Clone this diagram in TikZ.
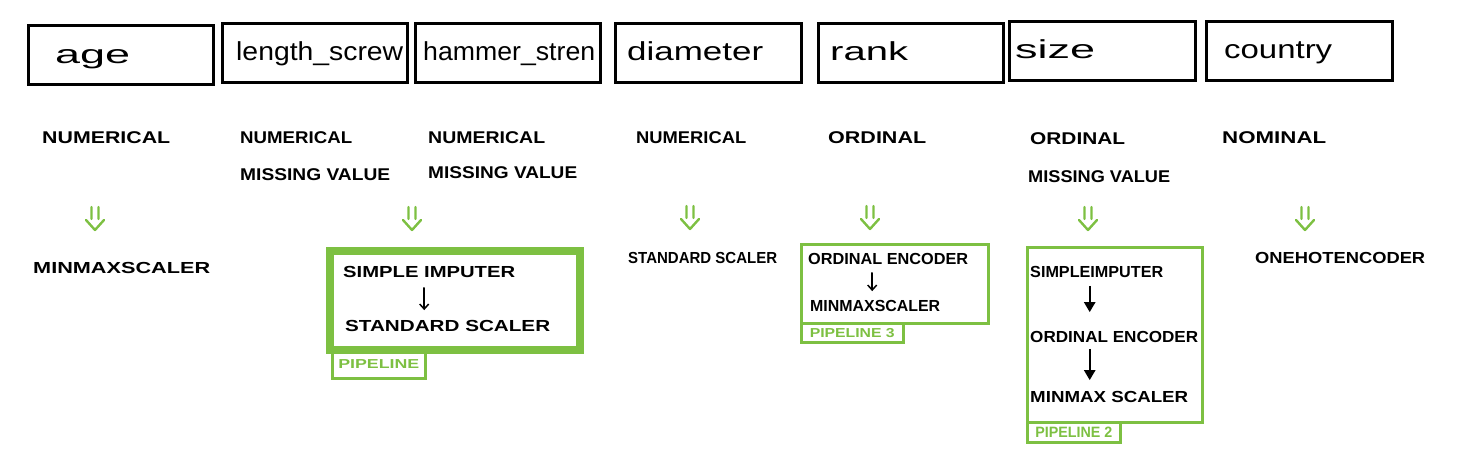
\documentclass[tikz,border=0pt]{standalone}
\usepackage{fontspec}
\usepackage{graphicx}
\setmainfont{Liberation Sans}
\usetikzlibrary{arrows.meta}
\definecolor{pgreen}{RGB}{125,192,66}
\newcommand{\fitw}[2]{\resizebox{#1pt}{\height}{#2}}
\begin{document}
\begin{tikzpicture}[x=1pt,y=-1pt,
  colbox/.style={draw=black,line width=2.6pt,minimum width=185pt,minimum height=59pt,anchor=north west,inner sep=0pt},
  colname/.style={anchor=base west,inner sep=0pt,font=\fontsize{26}{26}\selectfont},
  kind/.style={anchor=west,inner sep=0pt,font=\bfseries\fontsize{17}{17}\selectfont},
  outtxt/.style={anchor=west,inner sep=0pt,font=\bfseries\fontsize{16}{16}\selectfont},
  pipebox/.style={draw=pgreen,line width=3pt,anchor=north west,inner sep=0pt},
  tab/.style={draw=pgreen,line width=2.5pt,anchor=north west,inner sep=0pt,text=pgreen,font=\bfseries\fontsize{13}{13}\selectfont},
  thinarr/.style={draw=black,line width=1.5pt,line cap=round,-{Straight Barb[length=5pt,width=9pt,line width=1.5pt]}},
  fatarr/.style={draw=black,line width=2.4pt,-{Triangle[length=10pt,width=11pt]}},
  dbl/.pic={\draw[pgreen,line width=2.4pt,line cap=round,line join=round]
     (-3.5,0)--(-3.5,12) (3.5,0)--(3.5,12) (-9,13)--(0,23)--(9,13);}
]
\useasboundingbox (0,0) rectangle (1479,467);
% column boxes
\node[colbox] (bage) at (27,24) {};
\node[colbox] (blen) at (221,22) {};
\node[colbox] (bham) at (414,22) {};
\node[colbox,minimum width=186pt] (bdia) at (614,22) {};
\node[colbox] (brank) at (817,22) {};
\node[colbox,minimum width=186pt] (bsize) at (1008,20) {};
\node[colbox,minimum width=186pt] (bcty) at (1205,20) {};
% column names
\node[colname] (tage) at (55,63) {\fitw{75}{age}};
\node[colname] (tlen) at (236,60) {\fitw{167}{length\_screw}};
\node[colname] (tham) at (423,60) {\fitw{172}{hammer\_stren}};
\node[colname] (tdia) at (627,60) {\fitw{136}{diameter}};
\node[colname] (trank) at (830,60) {\fitw{78}{rank}};
\node[colname] (tsize) at (1015,58) {\fitw{80}{size}};
\node[colname] (tcty) at (1224,58) {\fitw{108}{country}};
% kinds
\node[kind] (k1) at (42,138) {\fitw{128}{NUMERICAL}};
\node[kind] (k2) at (240,138) {\fitw{112}{NUMERICAL}};
\node[kind] (k2b) at (240,175) {\fitw{150}{MISSING VALUE}};
\node[kind] (k3) at (428,138) {\fitw{117}{NUMERICAL}};
\node[kind] (k3b) at (428,173) {\fitw{149}{MISSING VALUE}};
\node[kind] (k4) at (636,138) {\fitw{110}{NUMERICAL}};
\node[kind] (k5) at (828,138) {\fitw{98}{ORDINAL}};
\node[kind] (k6) at (1030,139) {\fitw{95}{ORDINAL}};
\node[kind] (k6b) at (1028,177) {\fitw{142}{MISSING VALUE}};
\node[kind] (k7) at (1222,138) {\fitw{104}{NOMINAL}};
% green double arrows
\coordinate (d1) at (95,207);
\coordinate (d2) at (412,207);
\coordinate (d3) at (690,206);
\coordinate (d4) at (870,206);
\coordinate (d5) at (1088,207);
\coordinate (d6) at (1305,207);
\foreach \d in {d1,d2,d3,d4,d5,d6} \pic at (\d) {dbl};
% outputs
\node[outtxt] (o1) at (33,268) {\fitw{177}{MINMAXSCALER}};
\node[outtxt] (o4) at (628,258) {\fitw{149}{STANDARD SCALER}};
\node[outtxt] (o7) at (1255,258) {\fitw{170}{ONEHOTENCODER}};
% pipeline 1
\node[tab,minimum width=93pt,minimum height=31pt,text depth=0pt] (tab1) at (331,346) {\raisebox{-2.5pt}{\fitw{81}{PIPELINE}}};
\node[pipebox,line width=8pt,minimum width=250pt,minimum height=99pt] (pipe1) at (326,247) {};
\node[outtxt] (p1a) at (343,272) {\fitw{172}{SIMPLE IMPUTER}};
\node[outtxt] (p1b) at (345,326) {\fitw{205}{STANDARD SCALER}};
\draw[thinarr,shorten <=10pt,shorten >=10pt] ([xshift=-5pt]p1a.south) -- ([xshift=-5pt]p1a.south |- p1b.north);
% pipeline 3
\node[tab,minimum width=102pt,minimum height=19pt] (tab3) at (800,322) {\fitw{85}{PIPELINE 3}};
\node[pipebox,minimum width=187pt,minimum height=79pt] (pipe3) at (800,243) {};
\node[outtxt] (p3a) at (808,259) {\fitw{160}{ORDINAL ENCODER}};
\node[outtxt] (p3b) at (810,306) {\fitw{130}{MINMAXSCALER}};
\draw[thinarr,shorten <=8pt,shorten >=9pt] ([xshift=-16pt]p3a.south) -- ([xshift=-16pt]p3a.south |- p3b.north);
% pipeline 2
\node[tab,minimum width=93pt,minimum height=20pt,font=\bfseries\fontsize{15}{15}\selectfont] (tab2) at (1026,421) {\fitw{77}{PIPELINE 2}};
\node[pipebox,minimum width=175pt,minimum height=175pt] (pipe2) at (1026,246) {};
\node[outtxt] (p2a) at (1030,272) {\fitw{133}{SIMPLEIMPUTER}};
\node[outtxt] (p2b) at (1030,337) {\fitw{168}{ORDINAL ENCODER}};
\node[outtxt] (p2c) at (1030,397) {\fitw{158}{MINMAX SCALER}};
\draw[fatarr,shorten <=8pt,shorten >=19pt] ([xshift=-7pt]p2a.south) -- ([xshift=-7pt]p2a.south |- p2b.north);
\draw[fatarr,shorten <=6pt,shorten >=11pt] ([xshift=-7pt]p2a.south |- p2b.south) -- ([xshift=-7pt]p2a.south |- p2c.north);
\end{tikzpicture}
\end{document}
